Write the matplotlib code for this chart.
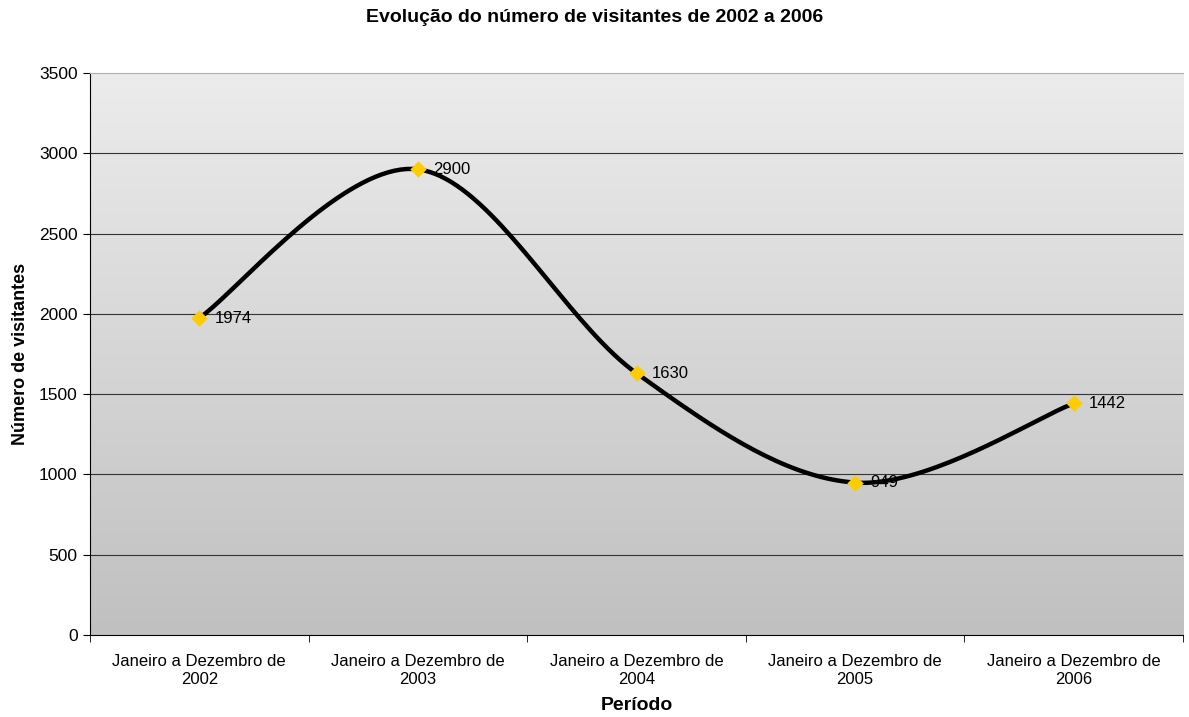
import numpy as np
import matplotlib.pyplot as plt
from matplotlib.colors import LinearSegmentedColormap

plt.rcParams['font.family'] = ['Liberation Sans', 'DejaVu Sans']

categories = ["Janeiro a Dezembro de\n2002", "Janeiro a Dezembro de\n2003",
              "Janeiro a Dezembro de\n2004", "Janeiro a Dezembro de\n2005",
              "Janeiro a Dezembro de\n2006"]
visitors = [1974, 2900, 1630, 949, 1442]


def smooth_curve(x, y, steps=40):
    # Catmull-Rom style bezier, like the spreadsheet "smoothed line"
    x = np.asarray(x, float)
    y = np.asarray(y, float)
    px = np.concatenate([[x[0]], x, [x[-1]]])
    py = np.concatenate([[y[0]], y, [y[-1]]])
    xs, ys = [], []
    t = np.linspace(0, 1, steps)
    for i in range(1, len(px) - 2):
        p0 = np.array([px[i], py[i]])
        p3 = np.array([px[i + 1], py[i + 1]])
        p1 = p0 + (np.array([px[i + 1], py[i + 1]]) - np.array([px[i - 1], py[i - 1]])) / 6
        p2 = p3 - (np.array([px[i + 2], py[i + 2]]) - np.array([px[i], py[i]])) / 6
        b = ((1 - t) ** 3)[:, None] * p0 + (3 * (1 - t) ** 2 * t)[:, None] * p1 \
            + (3 * (1 - t) * t ** 2)[:, None] * p2 + (t ** 3)[:, None] * p3
        xs.append(b[:, 0])
        ys.append(b[:, 1])
    return np.concatenate(xs), np.concatenate(ys)


fig = plt.figure(figsize=(11.89, 7.17), dpi=100)
ax = fig.add_axes([0.0757, 0.1144, 0.9193, 0.7838])

xpos = np.arange(len(categories))
ax.set_xlim(-0.5, len(categories) - 0.5)
ax.set_ylim(0, 3500)

# gradient background
cmap = LinearSegmentedColormap.from_list("bg", ["#c0c0c0", "#ececec"])
grad = np.linspace(0, 1, 256).reshape(-1, 1)
ax.imshow(grad, cmap=cmap, aspect='auto', origin='lower',
          extent=[-0.5, len(categories) - 0.5, 0, 3500], zorder=0)

ax.set_yticks(np.arange(0, 3501, 500))
for yv in np.arange(500, 3001, 500):
    ax.axhline(yv, color='#333333', lw=0.8, zorder=1)

sx, sy = smooth_curve(xpos, visitors)
ax.plot(sx, sy, color='black', lw=3.2, zorder=3)
ax.scatter(xpos, visitors, marker='D', s=70, color='#ffcc00', zorder=4, linewidths=0)

for xv, yv in zip(xpos, visitors):
    ax.annotate(str(yv), (xv, yv), xytext=(11, 0), textcoords='offset points',
                va='center', ha='left', fontsize=12, zorder=5)

ax.set_xticks(xpos)
ax.set_xticklabels(categories, fontsize=12, linespacing=1.25)
ax.tick_params(axis='x', which='major', length=0, pad=14)
ax.set_xticks(np.arange(-0.5, len(categories), 1), minor=True)
ax.tick_params(axis='x', which='minor', length=5, direction='out')
ax.tick_params(axis='y', length=5, direction='out', labelsize=12.5, pad=4)

ax.spines['right'].set_visible(False)
ax.spines['top'].set_color('#b0b0b0')
ax.spines['left'].set_color('black')
ax.spines['bottom'].set_color('black')

ax.set_xlabel("Período", fontsize=14, fontweight='bold', labelpad=7)
ax.set_ylabel("Número de visitantes", fontsize=13, fontweight='bold', labelpad=7)
fig.suptitle("Evolução do número de visitantes de 2002 a 2006", fontsize=14,
             fontweight='bold', y=0.988)

fig.savefig("out.png", dpi=100)
